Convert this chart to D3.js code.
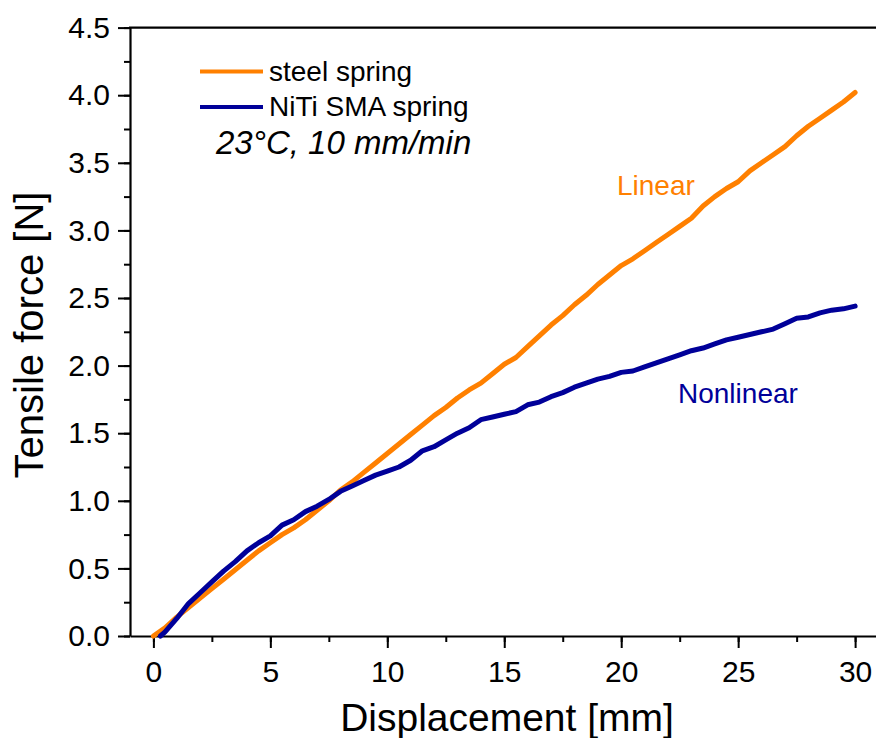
<!DOCTYPE html>
<html>
<head>
<meta charset="utf-8">
<script src="https://cdn.jsdelivr.net/npm/d3@7"></script>
<style>
  body { margin: 0; background: #fff; }
  svg text { font-family: "Liberation Sans", Arial, sans-serif; fill: #000; }
</style>
</head>
<body>
<div id="chart"></div>
<script>
// displacement [mm] / tensile force [N]
const steelX = [0, 0.5, 1, 1.5, 2, 2.5, 3, 3.5, 4, 4.5, 5, 5.5, 6, 6.5, 7, 7.5, 8, 8.5, 9, 9.5,
  10, 10.5, 11, 11.5, 12, 12.5, 13, 13.5, 14, 14.5, 15, 15.5, 16, 16.5, 17, 17.5, 18, 18.5, 19, 19.5,
  20, 20.5, 21, 21.5, 22, 22.5, 23, 23.5, 24, 24.5, 25, 25.5, 26, 26.5, 27, 27.5, 28, 28.5, 29, 29.5, 30];
const steelF = [0.0, 0.06, 0.14, 0.21, 0.28, 0.35, 0.42, 0.49, 0.56, 0.63, 0.69, 0.75, 0.80, 0.86, 0.93, 1.00, 1.08, 1.14, 1.21, 1.28,
  1.35, 1.42, 1.49, 1.56, 1.63, 1.69, 1.76, 1.82, 1.87, 1.94, 2.01, 2.06, 2.14, 2.22, 2.30, 2.37, 2.45, 2.52, 2.60, 2.67,
  2.74, 2.79, 2.85, 2.91, 2.97, 3.03, 3.09, 3.18, 3.25, 3.31, 3.36, 3.44, 3.50, 3.56, 3.62, 3.70, 3.77, 3.83, 3.89, 3.95, 4.02];

const nitiX = [0.3, 0.5, 1, 1.5, 2, 2.5, 3, 3.5, 4, 4.5, 5, 5.5, 6, 6.5, 7, 7.5, 8, 8.5, 9, 9.5,
  10, 10.5, 11, 11.5, 12, 12.5, 13, 13.5, 14, 14.5, 15, 15.5, 16, 16.5, 17, 17.5, 18, 18.5, 19, 19.5,
  20, 20.5, 21, 21.5, 22, 22.5, 23, 23.5, 24, 24.5, 25, 25.5, 26, 26.5, 27, 27.5, 28, 28.5, 29, 29.5, 30];
const nitiF = [0.0, 0.03, 0.13, 0.24, 0.32, 0.40, 0.48, 0.55, 0.63, 0.69, 0.74, 0.82, 0.86, 0.92, 0.96, 1.01, 1.07, 1.11, 1.15, 1.19,
  1.22, 1.25, 1.30, 1.37, 1.40, 1.45, 1.50, 1.54, 1.60, 1.62, 1.64, 1.66, 1.71, 1.73, 1.77, 1.80, 1.84, 1.87, 1.90, 1.92,
  1.95, 1.96, 1.99, 2.02, 2.05, 2.08, 2.11, 2.13, 2.16, 2.19, 2.21, 2.23, 2.25, 2.27, 2.31, 2.35, 2.36, 2.39, 2.41, 2.42, 2.44];

const seriesNames = ["steel spring", "NiTi SMA spring"];
const seriesColors = ["#ff8000", "#000099"];
const xTicks = [0, 5, 10, 15, 20, 25, 30];
const yTicks = [0, 0.5, 1.0, 1.5, 2.0, 2.5, 3.0, 3.5, 4.0, 4.5];

const W = 876, H = 738;
const svg = d3.select("#chart").append("svg").attr("width", W).attr("height", H);

const x = d3.scaleLinear().domain([-1, 31]).range([130, 878.5]);
const y = d3.scaleLinear().domain([0, 4.5]).range([636, 27.6]);

// minor ticks
svg.append("g")
  .attr("transform", "translate(0,636)")
  .call(d3.axisBottom(x).tickValues(d3.range(0, 31, 2.5)).tickSize(6).tickFormat(""))
  .call(g => g.select(".domain").remove())
  .selectAll("line").attr("stroke-width", 2);
svg.append("g")
  .attr("transform", "translate(130,0)")
  .call(d3.axisLeft(y).tickValues(d3.range(0, 4.51, 0.25)).tickSize(6).tickFormat(""))
  .call(g => g.select(".domain").remove())
  .selectAll("line").attr("stroke-width", 2);

// major ticks + labels
const xAxis = svg.append("g")
  .attr("transform", "translate(0,636)")
  .call(d3.axisBottom(x).tickValues(xTicks).tickSize(12).tickPadding(13).tickSizeOuter(0));
const yAxis = svg.append("g")
  .attr("transform", "translate(130,0)")
  .call(d3.axisLeft(y).tickValues(yTicks).tickSize(12).tickPadding(8).tickSizeOuter(0)
    .tickFormat(d3.format(".1f")));
[xAxis, yAxis].forEach(a => {
  a.selectAll("line").attr("stroke-width", 2);
  a.select(".domain").attr("stroke-width", 2.2);
  a.selectAll("text").style("font-size", "30px").style("font-family", "'Liberation Sans', Arial, sans-serif");
});

// top frame line
svg.append("line")
  .attr("x1", 129).attr("x2", W).attr("y1", y(4.5)).attr("y2", y(4.5))
  .attr("stroke", "#000").attr("stroke-width", 2.2);

const line = d3.line().x(d => x(d[0])).y(d => y(d[1]));
const series = [d3.zip(steelX, steelF), d3.zip(nitiX, nitiF)];

svg.selectAll(".curve")
  .data(series)
  .join("path")
  .attr("class", "curve")
  .attr("fill", "none")
  .attr("stroke", (d, i) => seriesColors[i])
  .attr("stroke-width", 5)
  .attr("stroke-linejoin", "round")
  .attr("stroke-linecap", "round")
  .attr("d", line);

// legend
const legend = svg.append("g");
seriesNames.forEach((name, i) => {
  const ly = 71.5 + i * 35.5;
  legend.append("line")
    .attr("x1", 200).attr("x2", 263).attr("y1", ly).attr("y2", ly)
    .attr("stroke", seriesColors[i]).attr("stroke-width", 4);
  legend.append("text")
    .attr("x", 269).attr("y", ly + 9)
    .style("font-size", "28px")
    .text(name);
});
legend.append("text")
  .attr("x", 216).attr("y", 154)
  .style("font-size", "33px").style("font-style", "italic")
  .text("23°C, 10 mm/min");

// annotations
svg.append("text")
  .attr("x", 617).attr("y", 195)
  .style("font-size", "28px").style("fill", seriesColors[0])
  .text("Linear");
svg.append("text")
  .attr("x", 678).attr("y", 403)
  .style("font-size", "28px").style("fill", seriesColors[1])
  .text("Nonlinear");

// axis titles
svg.append("text")
  .attr("x", 507).attr("y", 731)
  .attr("text-anchor", "middle")
  .style("font-size", "39px")
  .text("Displacement [mm]");
svg.append("text")
  .attr("transform", "translate(43,335) rotate(-90)")
  .attr("text-anchor", "middle")
  .style("font-size", "40px")
  .text("Tensile force [N]");
</script>
</body>
</html>
